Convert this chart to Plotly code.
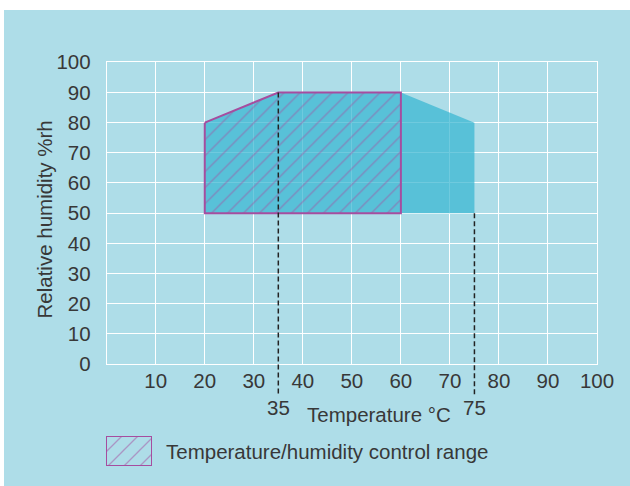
import plotly.graph_objects as go

# ---- data ----
x_ticks = [10, 20, 30, 40, 50, 60, 70, 80, 90, 100]
y_ticks = [0, 10, 20, 30, 40, 50, 60, 70, 80, 90, 100]

# full chamber range (blue)
range_temp = [20, 35, 60, 75, 75, 20]
range_hum = [80, 90, 90, 80, 50, 50]

# temperature/humidity control range (hatched)
ctrl_temp = [20, 35, 60, 60, 20, 20]
ctrl_hum = [80, 90, 90, 50, 50, 80]

# marked temperatures (dashed lines) and their top humidity
mark_temp = [35, 75]
mark_top_hum = [90, 50]
mark_labels = ["35", "75"]

legend_label = "Temperature/humidity control range"
x_title = "Temperature °C"
y_title = "Relative humidity %rh"

# ---- style ----
BG = "#AEDDE8"
BLUE = "rgba(55,181,209,0.72)"
MAG = "#A64D9F"
TXT = "#383838"
FONT = "Liberation Sans"
FS = 20.5

W, H = 630, 486
ML, MR, MT, MB = 100, 30, 60, 18
PW, PH = W - ML - MR, H - MT - MB

def px_x(px):
    return (px - ML) / PW

def px_y(py):
    return (H - MB - py) / PH

X_RANGE = [0, 100]
Y_RANGE = [0, 100]
X_DOM = [px_x(106.7), px_x(597)]
Y_DOM = [px_y(364), px_y(62.3)]

def data_to_paper_y(v):
    return Y_DOM[0] + (v - Y_RANGE[0]) / (Y_RANGE[1] - Y_RANGE[0]) * (Y_DOM[1] - Y_DOM[0])

HATCH = dict(shape="/", fgcolor=MAG, size=11.3, solidity=0.12, fillmode="overlay")

fig = go.Figure()

fig.add_trace(go.Scatter(
    x=range_temp, y=range_hum, mode="lines", fill="toself",
    fillcolor=BLUE, line=dict(width=0), hoverinfo="skip", showlegend=False,
))
fig.add_trace(go.Scatter(
    x=ctrl_temp, y=ctrl_hum, mode="lines", fill="toself",
    fillcolor="rgba(0,0,0,0)", fillpattern=HATCH,
    line=dict(color=MAG, width=2), hoverinfo="skip", showlegend=False,
))

# legend swatch on its own little axes
fig.add_trace(go.Scatter(
    x=[0, 1, 1, 0, 0], y=[0, 0, 1, 1, 0], mode="lines", fill="toself",
    fillcolor="rgba(0,0,0,0)", fillpattern=HATCH,
    line=dict(color=MAG, width=2), xaxis="x2", yaxis="y2",
    hoverinfo="skip", showlegend=False,
))

# dashed marker lines
bottom_dash = px_y(396)
for t, top in zip(mark_temp, mark_top_hum):
    fig.add_shape(type="line", xref="x", yref="paper", x0=t, x1=t,
                  y0=data_to_paper_y(top), y1=bottom_dash,
                  line=dict(color="#222222", width=1.5, dash="5px,3px"))

annotations = []
for t, lab in zip(mark_temp, mark_labels):
    annotations.append(dict(x=t, y=px_y(407.5), xref="x", yref="paper", text=lab,
                            showarrow=False, xanchor="center", yanchor="middle",
                            font=dict(family=FONT, size=FS, color=TXT)))
annotations.append(dict(x=px_x(379), y=px_y(414), xref="paper", yref="paper", text=x_title,
                        showarrow=False, xanchor="center", yanchor="middle",
                        font=dict(family=FONT, size=FS, color=TXT)))
annotations.append(dict(x=px_x(44), y=px_y(219.5), xref="paper", yref="paper", text=y_title,
                        textangle=-90, showarrow=False, xanchor="center", yanchor="middle",
                        font=dict(family=FONT, size=FS, color=TXT)))
annotations.append(dict(x=px_x(164), y=px_y(451), xref="paper", yref="paper", text=legend_label,
                        showarrow=False, xanchor="left", yanchor="middle",
                        font=dict(family=FONT, size=FS, color=TXT)))

# white border strips (top and left)
shapes_bg = [
    dict(type="rect", xref="paper", yref="paper", x0=px_x(-5), x1=px_x(640), y0=px_y(10), y1=px_y(-10),
         fillcolor="white", line=dict(width=0), layer="below"),
    dict(type="rect", xref="paper", yref="paper", x0=px_x(-10), x1=px_x(4), y0=px_y(500), y1=px_y(-10),
         fillcolor="white", line=dict(width=0), layer="below"),
]
for s in shapes_bg:
    fig.add_shape(**s)

fig.update_layout(
    width=W, height=H,
    margin=dict(l=ML, r=MR, t=MT, b=MB),
    paper_bgcolor=BG, plot_bgcolor=BG,
    showlegend=False,
    annotations=annotations,
    xaxis=dict(range=X_RANGE, domain=X_DOM, anchor="y", tickvals=x_ticks,
               ticktext=[str(v) for v in x_ticks], showgrid=True, gridcolor="white", gridwidth=1,
               showline=True, linecolor="white", linewidth=1, mirror=True, zeroline=False,
               ticks="", ticklabelstandoff=-2, automargin=False,
               tickfont=dict(family=FONT, size=FS, color=TXT), fixedrange=True),
    yaxis=dict(range=Y_RANGE, domain=Y_DOM, anchor="x", tickvals=y_ticks,
               showgrid=True, gridcolor="white", gridwidth=1,
               showline=True, linecolor="white", linewidth=1, mirror=True, zeroline=False,
               ticks="", ticklabelstandoff=11, automargin=False,
               tickfont=dict(family=FONT, size=FS, color=TXT), fixedrange=True),
    xaxis2=dict(range=[0, 1], domain=[px_x(106), px_x(152)], anchor="y2", visible=False,
                showgrid=False, zeroline=False, fixedrange=True),
    yaxis2=dict(range=[0, 1], domain=[px_y(466), px_y(436)], anchor="x2", visible=False,
                showgrid=False, zeroline=False, fixedrange=True),
)

fig.write_html("out.html", config={"displayModeBar": False},
               post_script="document.body.style.margin='0';document.body.style.overflow='hidden';")
